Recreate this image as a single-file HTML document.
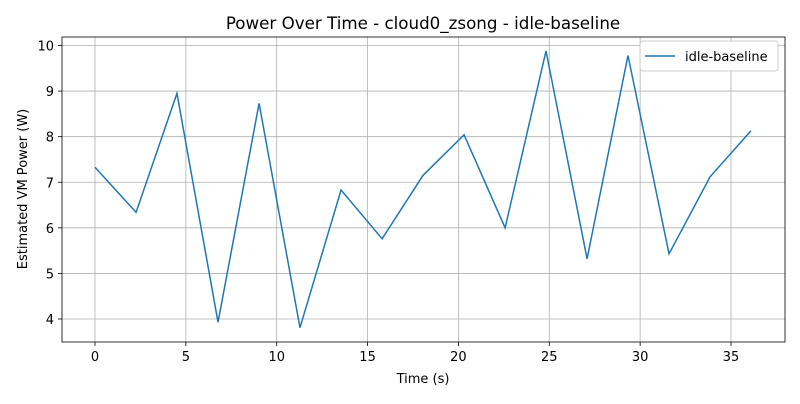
<!DOCTYPE html>
<html><head><meta charset="utf-8"><style>
body{margin:0;background:#fff;font-family:"DejaVu Sans","Liberation Sans",sans-serif;}
svg text{font-family:"DejaVu Sans","Liberation Sans",sans-serif;}
</style></head><body>
<svg width="800" height="400" xmlns="http://www.w3.org/2000/svg">
<g id="grid"></g>
<g id="axes"></g>
<path id="line" fill="none" stroke="#1f77b4" stroke-width="1.5"/>
<rect x="62" y="37" width="723" height="305" fill="none" stroke="#000" stroke-width="0.8"/>
<text x="423" y="29" font-size="16.7" text-anchor="middle">Power Over Time - cloud0_zsong - idle-baseline</text>
<text x="423" y="383" font-size="13" text-anchor="middle">Time (s)</text>
<text transform="translate(27,189) rotate(-90)" font-size="13" text-anchor="middle">Estimated VM Power (W)</text>
<g>
<rect x="640" y="41" width="138" height="30" rx="3" fill="#fff" stroke="#ccc" stroke-width="1"/>
<line x1="645" y1="56" x2="675" y2="56" stroke="#1f77b4" stroke-width="1.5"/>
<text x="685" y="61" font-size="13">idle-baseline</text>
</g>
</svg>
<script>
const times=[0,2.26,4.51,6.77,9.03,11.28,13.54,15.8,18.05,20.31,22.57,24.82,27.08,29.33,31.59,33.85,36.1];
const power=[7.33,6.34,8.95,3.93,8.73,3.81,6.83,5.76,7.15,8.04,6.0,9.88,5.32,9.78,5.43,7.12,8.13];
const xTicks=[0,5,10,15,20,25,30,35];
const yTicks=[4,5,6,7,8,9,10];
const X=v=>95+v*(731-95)/35;
const Y=v=>319-(v-4)*(319-45.5)/6;
const ns="http://www.w3.org/2000/svg";
const grid=document.getElementById('grid'),axes=document.getElementById('axes');
function mk(t,a,p){const e=document.createElementNS(ns,t);for(const k in a)e.setAttribute(k,a[k]);p.appendChild(e);return e;}
xTicks.forEach(t=>{const x=X(t);
const g=mk('line',{x1:x,x2:x,y1:37,y2:342,stroke:'#b0b0b0','stroke-width':0.8},grid);


mk('line',{x1:x,x2:x,y1:342,y2:346,stroke:'#000','stroke-width':0.8},axes);
const tx=mk('text',{x:x,y:361,'font-size':13,'text-anchor':'middle'},axes);tx.textContent=t;

});
yTicks.forEach(t=>{const y=Y(t);
const g=mk('line',{x1:62,x2:785,y1:y,y2:y,stroke:'#b0b0b0','stroke-width':0.8},grid);


mk('line',{x1:58,x2:62,y1:y,y2:y,stroke:'#000','stroke-width':0.8},axes);
const tx=mk('text',{x:54,y:y+5,'font-size':13,'text-anchor':'end'},axes);tx.textContent=t;

});
document.getElementById('line').setAttribute('d',times.map((t,i)=>(i?'L':'M')+X(t)+','+Y(power[i])).join(''));
</script>
</body></html>
